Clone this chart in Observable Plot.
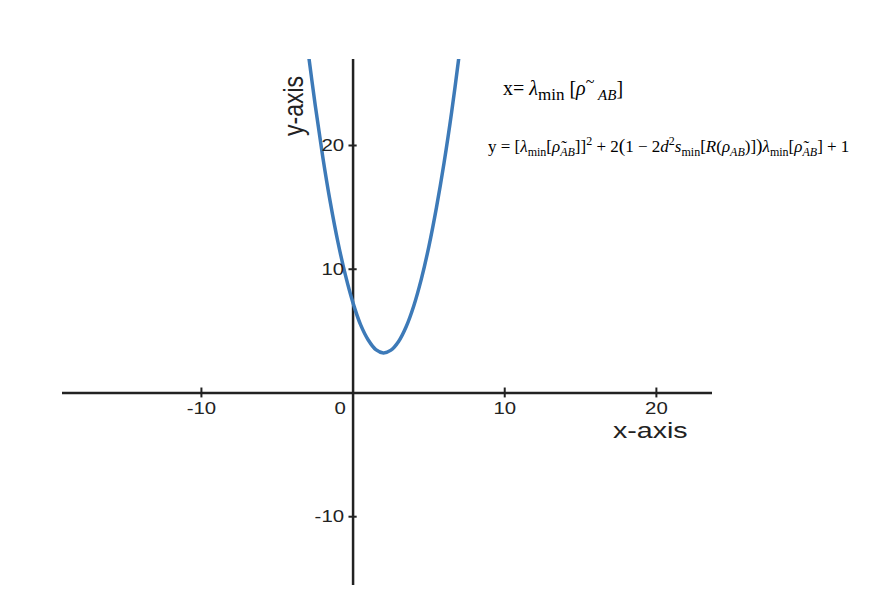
<!DOCTYPE html>
<html>
<head>
<meta charset="utf-8">
<script src="https://cdn.jsdelivr.net/npm/d3@7"></script>
<script src="https://cdn.jsdelivr.net/npm/@observablehq/plot@0.6"></script>
<style>
  html, body { margin: 0; padding: 0; background: #fff; }
  #wrap { position: relative; width: 891px; height: 597px; }
  .formula { position: absolute; font-family: "Liberation Serif", "DejaVu Serif", serif; color: #000; white-space: nowrap; line-height: 1; }
  .formula i { font-style: italic; }
  .formula sub, .formula sup { line-height: 0; }
  .big { font-size: 1.15em; }
</style>
</head>
<body>
<div id="wrap"></div>
<script>
// Curve
const curveX = [-3, -2.5, -2, -1.5, -1, -0.5, 0, 0.5, 1, 1.5, 2, 2.5, 3, 3.5, 4, 4.5, 5, 5.5, 6, 6.5, 7];
const curveY = [27.9, 23.3, 19.1, 15.4, 12.2, 9.5, 7.26, 5.5, 4.28, 3.5, 3.24, 3.46, 4.16, 5.35, 7.03, 9.2, 11.85, 15.0, 18.6, 22.7, 27.35];
// Axis ticks
const xTicks = [-10, 10, 20];
const xTickLabels = ["-10", "10", "20"];
const yTicks = [-10, 10, 20];
const yTickLabels = ["-10", "10", "20"];
const zeroLabel = ["0"];

const curve = curveX.map((x, i) => ({x, y: curveY[i]}));
const font = "'Liberation Sans', Arial, sans-serif";

const chart = Plot.plot({
  width: 891,
  height: 597,
  marginLeft: 62,
  marginRight: 179,
  marginTop: 59,
  marginBottom: 12,
  x: {type: "linear", domain: [-19.16, 23.7], axis: null},
  y: {type: "linear", domain: [-15.56, 26.95], axis: null},
  style: {background: "#fff", fontFamily: font},
  marks: [
    Plot.ruleY([0], {stroke: "#222", strokeWidth: 2.5}),
    Plot.ruleX([0], {stroke: "#222", strokeWidth: 2.5}),
    Plot.ruleX(xTicks, {x: d => d, y1: -0.4, y2: 0.4, stroke: "#222", strokeWidth: 2}),
    Plot.ruleY(yTicks, {y: d => d, x1: -0.27, x2: 0.27, stroke: "#222", strokeWidth: 2}),
    Plot.line(curve, {x: "x", y: "y", stroke: "#3d7ab8", strokeWidth: 3.5, curve: "catmull-rom", clip: true}),
    Plot.text(xTicks, {x: d => d, y: 0, text: (d, i) => xTickLabels[i], dy: 16, fontSize: 17, fill: "#222"}),
    Plot.text(zeroLabel, {x: 0, y: 0, text: d => d, dy: 16, dx: -13, fontSize: 17, fill: "#222"}),
    Plot.text(yTicks, {x: 0, y: d => d, text: (d, i) => yTickLabels[i], dx: -9, textAnchor: "end", fontSize: 17, fill: "#222"}),
    Plot.text(["x-axis"], {x: 19.6, y: 0, text: d => d, dy: 38, fontSize: 22, fill: "#222"}),
    Plot.text(["y-axis"], {x: -3.9, y: 23.2, text: d => d, rotate: -90, fontSize: 23, fill: "#222"})
  ]
});

const wrap = document.getElementById("wrap");
wrap.appendChild(chart);

// The reference glyphs are stretched horizontally; emulate with a scaleX about each anchor
d3.select(chart).selectAll("text").each(function () {
  const el = this;
  const txt = el.textContent;
  let s = 1.2;
  if (txt === "x-axis") s = 1.3;
  const xa = el.getAttribute("x"), ya = el.getAttribute("y");
  const tr = el.getAttribute("transform") || "";
  let ax, ay;
  if (xa !== null) { ax = +xa; ay = +(ya || 0); }
  else {
    const m = /translate\(\s*([-\d.e]+)[ ,]+([-\d.e]+)\s*\)/.exec(tr);
    if (!m) return;
    ax = +m[1]; ay = +m[2];
  }
  el.setAttribute("transform", `translate(${ax},${ay}) scale(${s},1) translate(${-ax},${-ay}) ${tr}`);
});

// Formulas
const f1 = document.createElement("div");
f1.className = "formula";
f1.style.left = "503px"; f1.style.top = "78px"; f1.style.fontSize = "20px";
f1.innerHTML = "x= <i>λ</i><sub style='font-size:17px'>min</sub> [<i>ρ</i><sup style='font-size:16px'>~</sup><sub style='font-size:15px'>&nbsp;<i>AB</i></sub>]";
wrap.appendChild(f1);

const f2 = document.createElement("div");
f2.className = "formula";
f2.style.left = "488px"; f2.style.top = "136px"; f2.style.fontSize = "17px";
f2.innerHTML = "y = [<i>λ</i><sub style='font-size:12px'>min</sub>[<i>ρ̃</i><sub style='font-size:12px'><i>AB</i></sub>]]<sup style='font-size:12px'>2</sup> + 2<span class='big'>(</span>1 − 2<i>d</i><sup style='font-size:12px'>2</sup><i>s</i><sub style='font-size:12px'>min</sub>[<i>R</i>(<i>ρ</i><sub style='font-size:12px'><i>AB</i></sub>)]<span class='big'>)</span><i>λ</i><sub style='font-size:12px'>min</sub>[<i>ρ̃</i><sub style='font-size:12px'><i>AB</i></sub>] + 1";
wrap.appendChild(f2);
</script>
</body>
</html>
